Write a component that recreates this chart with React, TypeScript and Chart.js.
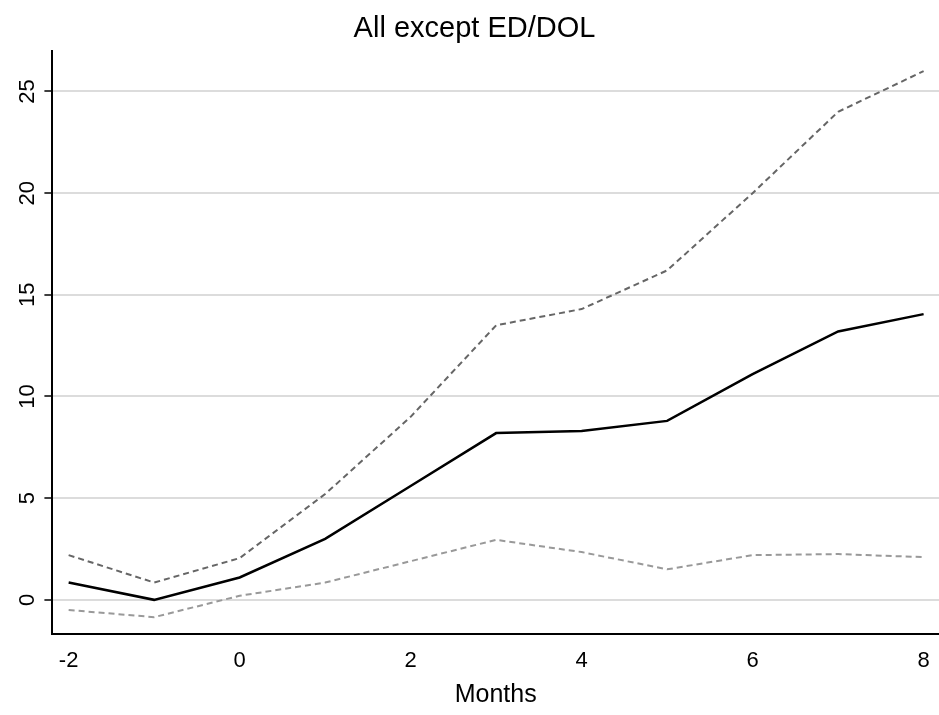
import React, { useEffect, useRef } from "react";
import { Chart, registerables } from "chart.js";
Chart.register(...registerables);

const months = [-2, -1, 0, 1, 2, 3, 4, 5, 6, 7, 8];
const estimate = [0.85, 0.0, 1.1, 3.0, 5.6, 8.2, 8.3, 8.8, 11.1, 13.2, 14.05];
const upper = [2.2, 0.85, 2.05, 5.2, 9.0, 13.5, 14.3, 16.2, 20.0, 24.0, 26.0];
const lower = [-0.5, -0.85, 0.2, 0.85, 1.9, 2.95, 2.35, 1.5, 2.2, 2.25, 2.1];

export default function App() {
  const ref = useRef<HTMLCanvasElement>(null);
  useEffect(() => {
    document.body.style.margin = "0";
    const pts = (a: number[]) => months.map((m, i) => ({ x: m, y: a[i] }));
    const font = "'Liberation Sans', Arial, sans-serif";
    const chart = new Chart(ref.current!, {
      type: "line",
      data: {
        datasets: [
          { data: pts(upper), borderColor: "#666", borderWidth: 2, borderDash: [6, 4], pointRadius: 0, tension: 0 },
          { data: pts(lower), borderColor: "#999", borderWidth: 2, borderDash: [6, 4], pointRadius: 0, tension: 0 },
          { data: pts(estimate), borderColor: "#000", borderWidth: 2.5, pointRadius: 0, tension: 0 },
        ],
      },
      options: {
        animation: false,
        responsive: false,
        layout: { padding: { top: 4, right: 0, left: 10, bottom: 1 } },
        plugins: {
          legend: { display: false },
          tooltip: { enabled: false },
          title: { display: true, text: "All except ED/DOL", color: "#000", font: { family: font, size: 29, weight: "normal" }, padding: { top: 8, bottom: 4 } },
        },
        scales: {
          x: {
            type: "linear", min: -2.19, max: 8.18,
            afterBuildTicks: (s: any) => { s.ticks = [-2, 0, 2, 4, 6, 8].map((v) => ({ value: v })); },
            grid: { display: false, drawTicks: true, tickLength: 8, color: "#000" },
            border: { color: "#000", width: 2 },
            ticks: { color: "#000", font: { family: font, size: 22 }, maxRotation: 0, padding: 6 },
            title: { display: true, text: "Months", color: "#000", font: { family: font, size: 25 }, padding: { top: 0 } },
          },
          y: {
            min: -1.66, max: 27,
            afterBuildTicks: (s: any) => { s.ticks = [0, 5, 10, 15, 20, 25].map((v) => ({ value: v })); },
            grid: { color: "#dcdcdc", lineWidth: 2, tickLength: 8, tickColor: "#000", tickWidth: 1.5 },
            border: { color: "#000", width: 2 },
            ticks: { color: "#000", font: { family: font, size: 22 }, minRotation: 90, maxRotation: 90, padding: 4, crossAlign: "center" },
          },
        },
      },
    });
    return () => chart.destroy();
  }, []);
  return <canvas ref={ref} width={939} height={715} style={{ display: "block" }} />;
}
